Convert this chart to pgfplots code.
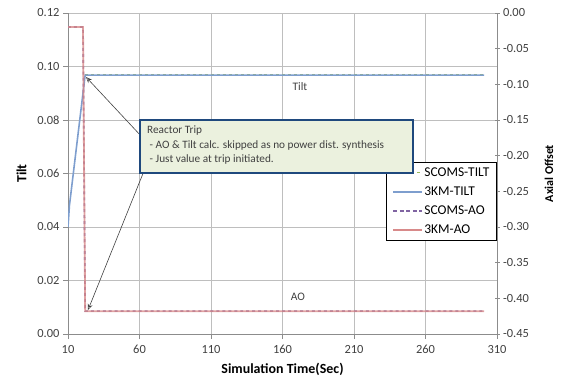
\documentclass[border=0pt]{standalone}
\usepackage{pgfplots}
\pgfplotsset{compat=1.18}
\usepackage{fontspec}
\setmainfont{Carlito}
\usetikzlibrary{arrows.meta}
\definecolor{gridc}{RGB}{190,190,190}
\definecolor{axc}{RGB}{140,140,140}
\definecolor{tiltc}{RGB}{126,158,206}
\definecolor{aoc}{RGB}{216,138,138}
\definecolor{scomsao}{RGB}{128,100,162}
\definecolor{scomstilt}{RGB}{155,187,89}
\definecolor{boxfill}{RGB}{235,241,222}
\definecolor{boxdraw}{RGB}{31,73,125}
\definecolor{textc}{RGB}{64,64,64}
\pgfplotsset{
  common/.style={
    at={(68bp,49bp)}, anchor=south west,
    scale only axis, width=429bp, height=321bp,
    xmin=10, xmax=310,
    axis line style={axc, line width=0.8pt},
    tick style={axc, line width=0.8pt},
    major tick length=5bp,
    ticklabel style={font=\fontsize{12.5}{14}\selectfont, text=textc},
    /pgf/number format/assume math mode=true,
    label style={font=\bfseries\fontsize{14}{16}\selectfont, text=black},
  }
}
\begin{document}
\begin{tikzpicture}[x=1bp,y=1bp]
\useasboundingbox (0,0) rectangle (563,383);
\begin{axis}[common,
  ymin=0, ymax=0.12,
  axis y line*=left, axis x line*=bottom,
  xtick={10,60,110,160,210,260,310},
  ytick={0,0.02,0.04,0.06,0.08,0.10,0.12},
  grid=major, major grid style={gridc, line width=0.8pt},
  tick align=outside,
  yticklabel style={/pgf/number format/.cd, fixed, fixed zerofill, precision=2},
  xticklabel style={yshift=-3bp},
  xlabel={Simulation Time(Sec)}, ylabel={Tilt},
  xlabel style={yshift=-2bp},
  ylabel style={yshift=4bp},
]
\addplot[draw=scomstilt, dashed, line width=1.2pt] coordinates {(22,0.0968) (301,0.0968)};
\addplot[draw=tiltc, line width=1.6pt] coordinates {(10,0.040) (11,0.048) (22,0.0968) (301,0.0968)};
\end{axis}
\begin{axis}[common,
  ymin=-0.45, ymax=0,
  axis y line*=right, axis x line=none,
  ytick={-0.45,-0.40,-0.35,-0.30,-0.25,-0.20,-0.15,-0.10,-0.05,0},
  tick align=center,
  yticklabel style={/pgf/number format/.cd, fixed, fixed zerofill, precision=2},
  ylabel={Axial Offset},
  ylabel style={font=\bfseries\fontsize{12}{14}\selectfont, yshift=-9bp},
  legend style={at={(1,0.536)}, anchor=north east, draw=black, line width=1.2pt,
    fill=white, font=\fontsize{13.5}{15}\selectfont, row sep=4bp,
    inner xsep=6bp, inner ysep=2.5bp, nodes={inner ysep=2.5bp, inner xsep=1bp}},
  legend cell align=left,
]
\addlegendimage{legend image code/.code={\draw[scomstilt, dashed, line width=1.2pt] (0bp,0bp) -- (29bp,0bp);}}
\addlegendentry{SCOMS-TILT}
\addlegendimage{legend image code/.code={\draw[tiltc, line width=1.6pt] (0bp,0bp) -- (29bp,0bp);}}
\addlegendentry{3KM-TILT}
\addlegendimage{legend image code/.code={\draw[scomsao, dash pattern=on 4bp off 2.5bp, line width=1.8pt] (0bp,0bp) -- (29bp,0bp);}}
\addlegendentry{SCOMS-AO}
\addlegendimage{legend image code/.code={\draw[aoc, line width=1.8pt] (0bp,0bp) -- (29bp,0bp);}}
\addlegendentry{3KM-AO}
\addplot[draw=scomsao, dashed, line width=1.6pt, forget plot] coordinates {(10,-0.0196) (20.5,-0.0196) (22,-0.418) (301,-0.418)};
\addplot[draw=aoc, line width=1.8pt, opacity=0.8, forget plot] coordinates {(10,-0.0196) (20.5,-0.0196) (22,-0.418) (301,-0.418)};
\end{axis}
% annotations
\node[font=\fontsize{11.5}{13}\selectfont, text=textc] at (300,296) {Tilt};
\node[font=\fontsize{11.5}{13}\selectfont, text=textc] at (298,86) {AO};
\draw[textc, line width=0.6pt, -{Stealth[open, length=6bp, width=5bp]}] (142,246) -- (86,306);
\draw[textc, line width=0.6pt, -{Stealth[open, length=6bp, width=5bp]}] (144,212) -- (88,73);
\draw[boxdraw, line width=1.5pt, fill=boxfill] (140,263) rectangle (413,210);
\node[anchor=north west, align=left, inner sep=0pt, text=textc,
  font=\fontsize{11.3}{14.5}\selectfont] at (147,257)
  {Reactor Trip\\ \ - AO \& Tilt calc. skipped as no power dist. synthesis\\ \ - Just value at trip initiated.};
\end{tikzpicture}
\end{document}
